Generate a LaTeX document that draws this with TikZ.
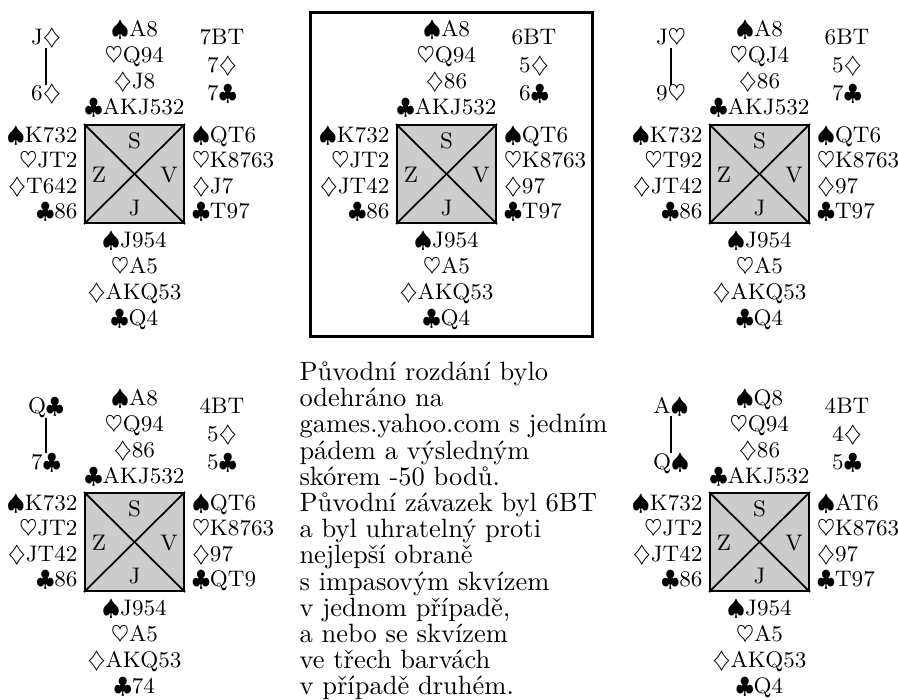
\documentclass[tikz,border=0pt]{standalone}
\usepackage{fontspec}
\setmainfont{Latin Modern Roman}

% suit symbols
\newcommand\sSp{$\spadesuit$}
\newcommand\sHe{$\heartsuit$}
\newcommand\sDi{$\diamondsuit$}
\newcommand\sCl{$\clubsuit$}

\tikzset{
  hand/.style={inner sep=0pt, anchor=base, font=\fontsize{9}{10.4}\selectfont},
  para/.style={inner sep=0pt, anchor=base west, font=\fontsize{10.6}{10.5}\selectfont},
  table/.style={draw=black, line width=0.8pt, fill=black!20, inner sep=0pt,
                minimum width=39.6pt, minimum height=39.2pt},
  diagline/.style={line width=0.7pt},
  tie/.style={line width=0.8pt},
  boardframe/.style={draw=black, line width=1.2pt}
}

% table square with compass letters
\newcommand\tablebox[1]{%
  \node[table] (#1box) at (134.5,174) {};
  \draw[diagline] (#1box.north west) -- (#1box.south east);
  \draw[diagline] (#1box.north east) -- (#1box.south west);
  \node[hand] (#1S) at (134.5,148) {S};
  \node[hand] (#1Z) at (99,182) {Z};
  \node[hand] (#1V) at (169,182) {V};
  \node[hand] (#1J) at (134.5,215) {J};}

\newcommand\northhand[5]{%
  \node[hand] (#1n1) at (134.5,37) {#2};
  \node[hand] (#1n2) at (134.5,63) {#3};
  \node[hand] (#1n3) at (134.5,89) {#4};
  \node[hand] (#1n4) at (134.5,115) {#5};}

\newcommand\westhand[5]{%
  \node[hand,anchor=base east] (#1w1) at (78,142) {#2};
  \node[hand,anchor=base east] (#1w2) at (78,167.5) {#3};
  \node[hand,anchor=base east] (#1w3) at (78,193) {#4};
  \node[hand,anchor=base east] (#1w4) at (78,218.5) {#5};}

\newcommand\easthand[5]{%
  \node[hand,anchor=base west] (#1e1) at (191.5,142) {#2};
  \node[hand,anchor=base west] (#1e2) at (191.5,167.5) {#3};
  \node[hand,anchor=base west] (#1e3) at (191.5,193) {#4};
  \node[hand,anchor=base west] (#1e4) at (191.5,218.5) {#5};}

\newcommand\southhand[5]{%
  \node[hand] (#1s1) at (134.5,247) {#2};
  \node[hand] (#1s2) at (134.5,273) {#3};
  \node[hand] (#1s3) at (134.5,299) {#4};
  \node[hand] (#1s4) at (134.5,325) {#5};}

% contract and tricks needed
\newcommand\contract[4]{%
  \node[hand] (#1c1) at (222,45) {#2};
  \node[hand] (#1c2) at (222,73) {#3};
  \node[hand] (#1c3) at (222,101) {#4};}

% two cards joined by a bar
\newcommand\cardpair[3]{%
  \node[hand] (#1t1) at (46,45) {#2};
  \node[hand] (#1t2) at (46,101) {#3};
  \draw[tie] (#1t1.south) -- (#1t2.north);}

\begin{document}
\begin{tikzpicture}[x=0.4pt, y=-0.4pt]
\useasboundingbox (0,0) rectangle (898,699);

% board A
\begin{scope}
  \tablebox{a}
  \northhand{a}{\sSp A8}{\sHe Q94}{\sDi J8}{\sCl AKJ532}
  \westhand{a}{\sSp K732}{\sHe JT2}{\sDi T642}{\sCl 86}
  \easthand{a}{\sSp QT6}{\sHe K8763}{\sDi J7}{\sCl T97}
  \southhand{a}{\sSp J954}{\sHe A5}{\sDi AKQ53}{\sCl Q4}
  \contract{a}{7BT}{7\sDi}{7\sCl}
  \cardpair{a}{J\sDi}{6\sDi}
\end{scope}

% board B (framed)
\draw[boardframe] (310.3,12.7) rectangle (592.3,336.8);
\begin{scope}[shift={(312,0)}]
  \tablebox{b}
  \northhand{b}{\sSp A8}{\sHe Q94}{\sDi 86}{\sCl AKJ532}
  \westhand{b}{\sSp K732}{\sHe JT2}{\sDi JT42}{\sCl 86}
  \easthand{b}{\sSp QT6}{\sHe K8763}{\sDi 97}{\sCl T97}
  \southhand{b}{\sSp J954}{\sHe A5}{\sDi AKQ53}{\sCl Q4}
  \contract{b}{6BT}{5\sDi}{6\sCl}
\end{scope}

% board C
\begin{scope}[shift={(625,0)}]
  \tablebox{c}
  \northhand{c}{\sSp A8}{\sHe QJ4}{\sDi 86}{\sCl AKJ532}
  \westhand{c}{\sSp K732}{\sHe T92}{\sDi JT42}{\sCl 86}
  \easthand{c}{\sSp QT6}{\sHe K8763}{\sDi 97}{\sCl T97}
  \southhand{c}{\sSp J954}{\sHe A5}{\sDi AKQ53}{\sCl Q4}
  \contract{c}{6BT}{5\sDi}{7\sCl}
  \cardpair{c}{J\sHe}{9\sHe}
\end{scope}

% board D
\begin{scope}[shift={(0,368)}]
  \tablebox{d}
  \northhand{d}{\sSp A8}{\sHe Q94}{\sDi 86}{\sCl AKJ532}
  \westhand{d}{\sSp K732}{\sHe JT2}{\sDi JT42}{\sCl 86}
  \easthand{d}{\sSp QT6}{\sHe K8763}{\sDi 97}{\sCl QT9}
  \southhand{d}{\sSp J954}{\sHe A5}{\sDi AKQ53}{\sCl 74}
  \contract{d}{4BT}{5\sDi}{5\sCl}
  \cardpair{d}{Q\sCl}{7\sCl}
\end{scope}

% board E
\begin{scope}[shift={(625,368)}]
  \tablebox{e}
  \northhand{e}{\sSp Q8}{\sHe Q94}{\sDi 86}{\sCl AKJ532}
  \westhand{e}{\sSp K732}{\sHe JT2}{\sDi JT42}{\sCl 86}
  \easthand{e}{\sSp AT6}{\sHe K8763}{\sDi 97}{\sCl T97}
  \southhand{e}{\sSp J954}{\sHe A5}{\sDi AKQ53}{\sCl Q4}
  \contract{e}{4BT}{4\sDi}{5\sCl}
  \cardpair{e}{A\sSp}{Q\sSp}
\end{scope}

% commentary
\foreach \t [count=\i from 0] in {Původní rozdání bylo, odehráno na,
    games.yahoo.com s jedním, pádem a výsledným, skórem -50 bodů.,
    Původní závazek byl 6BT, a byl uhratelný proti, nejlepší obraně,
    s impasovým skvízem, {v jednom případě,}, a nebo se skvízem,
    ve třech barvách, v případě druhém.}
  \node[para] (note\i) at (299,380.5+26.2*\i) {\t};
\end{tikzpicture}
\end{document}
